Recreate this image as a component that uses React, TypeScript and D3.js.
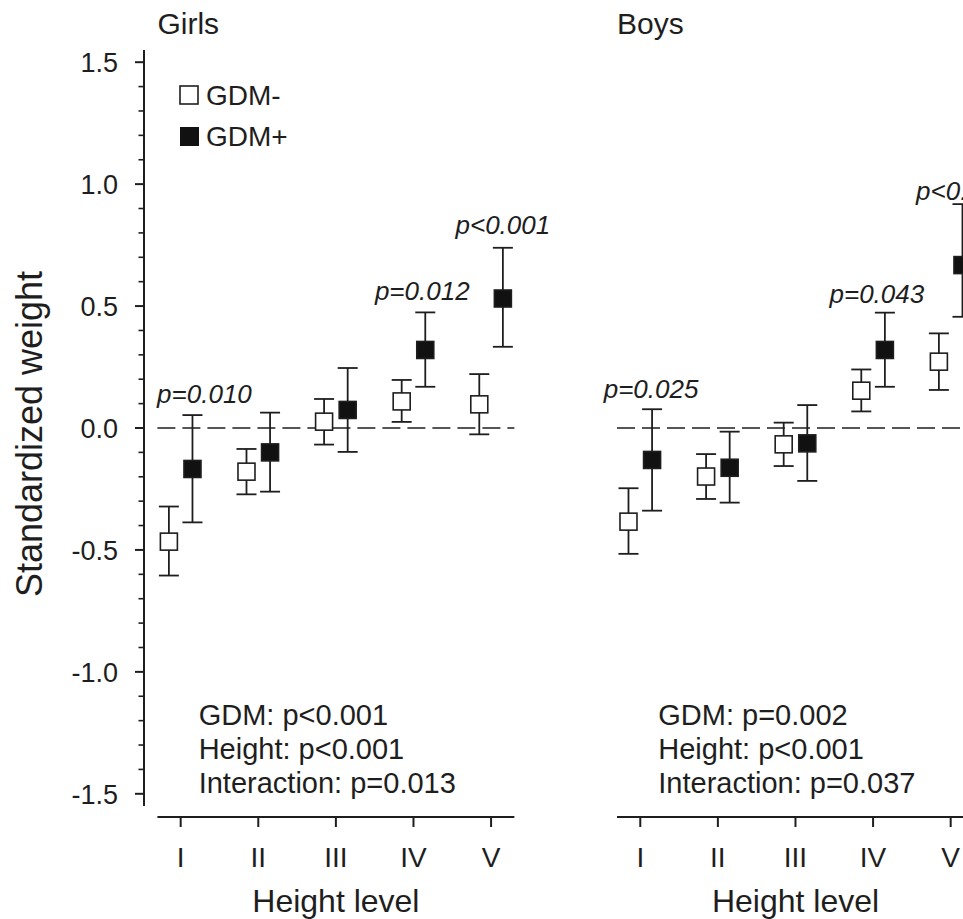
import React from 'react';
import * as d3 from 'd3';

// Height levels
const levels = ['I', 'II', 'III', 'IV', 'V'];

// Girls, GDM- (mean and error limits)
const girlsNegMean = [-0.466, -0.179, 0.026, 0.109, 0.097];
const girlsNegLow = [-0.605, -0.272, -0.068, 0.025, -0.026];
const girlsNegHigh = [-0.322, -0.086, 0.119, 0.197, 0.221];
// Girls, GDM+
const girlsPosMean = [-0.168, -0.100, 0.074, 0.320, 0.531];
const girlsPosLow = [-0.387, -0.261, -0.098, 0.169, 0.333];
const girlsPosHigh = [0.053, 0.063, 0.246, 0.474, 0.739];

// Boys, GDM-
const boysNegMean = [-0.384, -0.199, -0.067, 0.153, 0.272];
const boysNegLow = [-0.516, -0.291, -0.156, 0.068, 0.156];
const boysNegHigh = [-0.247, -0.107, 0.022, 0.240, 0.388];
// Boys, GDM+
const boysPosMean = [-0.131, -0.163, -0.063, 0.320, 0.668];
const boysPosLow = [-0.339, -0.306, -0.217, 0.169, 0.456];
const boysPosHigh = [0.077, -0.015, 0.094, 0.473, 0.918];

// p-value annotations per level (GDM- vs GDM+)
const girlsPLevel = [1, 4, 5];
const girlsPText = ['p=0.010', 'p=0.012', 'p<0.001'];
const boysPLevel = [1, 4, 5];
const boysPText = ['p=0.025', 'p=0.043', 'p<0.001'];

// model results
const girlsStats = ['GDM: p<0.001', 'Height: p<0.001', 'Interaction: p=0.013'];
const boysStats = ['GDM: p=0.002', 'Height: p<0.001', 'Interaction: p=0.037'];

const yMajor = [1.5, 1.0, 0.5, 0.0, -0.5, -1.0, -1.5];

const FONT = '"Liberation Sans", Arial, sans-serif';
const INK = '#1e1e1e';

const y = d3.scaleLinear().domain([-1.55, 1.55]).range([806, 50]);
const yMinor = d3.range(-15, 16).filter(d => d % 5 !== 0).map(d => d / 10);
// plain hyphen for negatives, like the original
const fmt = (v: number) => d3.format('.1f')(v).replace('\u2212', '-');

const STEP = 77.6;
const OFFSET = 0.152; // horizontal dodge of the two groups, in level units
const BOX = 17;
const CAP = 10;

function Panel({ x0, title, negMean, negLow, negHigh, posMean, posLow, posHigh, pLevel, pText, pNudge, stats }) {
  const x = d3.scaleLinear().domain([0.7, 5.3]).range([x0, x0 + 4.6 * STEP]);
  const [xa, xb] = x.range();

  const series = [
    { mean: negMean, low: negLow, high: negHigh, dx: -OFFSET, fill: '#fff' },
    { mean: posMean, low: posLow, high: posHigh, dx: OFFSET, fill: '#111' },
  ];

  return (
    <g>
      <text x={xa} y={34} fontSize={30} fill={INK}>{title}</text>

      {/* zero line */}
      <line x1={xa} x2={xb} y1={y(0)} y2={y(0)} stroke={INK} strokeWidth={1.6} strokeDasharray="18,7" />

      {/* x axis */}
      <line x1={xa} x2={xb} y1={817} y2={817} stroke={INK} strokeWidth={2} />
      {levels.map((l, i) => (
        <g key={l}>
          <line x1={x(i + 1)} x2={x(i + 1)} y1={817} y2={827} stroke={INK} strokeWidth={2} />
          <text x={x(i + 1)} y={867} textAnchor="middle" fontSize={28} fill={INK}>{l}</text>
        </g>
      ))}
      <text x={x(3)} y={912} textAnchor="middle" fontSize={32} fill={INK}>Height level</text>

      {/* error bars + squares */}
      {series.map((s, si) => levels.map((l, i) => {
        const cx = x(i + 1 + s.dx);
        return (
          <g key={si + l}>
            <line x1={cx} x2={cx} y1={y(s.low[i])} y2={y(s.high[i])} stroke={INK} strokeWidth={1.8} />
            <line x1={cx - CAP} x2={cx + CAP} y1={y(s.low[i])} y2={y(s.low[i])} stroke={INK} strokeWidth={1.8} />
            <line x1={cx - CAP} x2={cx + CAP} y1={y(s.high[i])} y2={y(s.high[i])} stroke={INK} strokeWidth={1.8} />
            <rect x={cx - BOX / 2} y={y(s.mean[i]) - BOX / 2} width={BOX} height={BOX}
              fill={s.fill} stroke={INK} strokeWidth={1.6} />
          </g>
        );
      }))}

      {/* p-values */}
      {pLevel.map((lv, k) => (
        <text key={k} x={x(lv + OFFSET) + pNudge[k][0]} y={y(posHigh[lv - 1]) + pNudge[k][1]}
          textAnchor="middle" fontSize={26} fontStyle="italic" fill={INK}>{pText[k]}</text>
      ))}

      {/* stats block */}
      {stats.map((t, k) => (
        <text key={t} x={x(1) + 18} y={725 + k * 34} fontSize={29} fill={INK}>{t}</text>
      ))}
    </g>
  );
}

export default function App() {
  return (
    <svg width={963} height={919} style={{ position: 'absolute', left: 0, top: 0, background: '#fff' }}
      fontFamily={FONT}>
      <rect width={963} height={919} fill="#fff" />

      {/* y axis (left panel only) */}
      <line x1={144} x2={144} y1={y(1.55)} y2={y(-1.55)} stroke={INK} strokeWidth={2} />
      {yMajor.map(v => (
        <g key={v}>
          <line x1={135} x2={144} y1={y(v)} y2={y(v)} stroke={INK} strokeWidth={2} />
          <text x={118} y={y(v)} dy="0.36em" textAnchor="end" fontSize={27} fill={INK}>{fmt(v)}</text>
        </g>
      ))}
      {yMinor.map(v => (
        <line key={v} x1={138.5} x2={144} y1={y(v)} y2={y(v)} stroke={INK} strokeWidth={1.6} />
      ))}
      <text transform={`translate(42,${434}) rotate(-90)`} textAnchor="middle" fontSize={36} fill={INK}>
        Standardized weight
      </text>

      {/* legend */}
      <rect x={180} y={86} width={18} height={18} fill="#fff" stroke={INK} strokeWidth={1.6} />
      <text x={206} y={105} fontSize={28} fill={INK}>GDM-</text>
      <rect x={180} y={127} width={19} height={19} fill="#111" />
      <text x={206} y={146} fontSize={28} fill={INK}>GDM+</text>

      <Panel x0={157.4} title="Girls"
        negMean={girlsNegMean} negLow={girlsNegLow} negHigh={girlsNegHigh}
        posMean={girlsPosMean} posLow={girlsPosLow} posHigh={girlsPosHigh}
        pLevel={girlsPLevel} pText={girlsPText} pNudge={[[12, -12], [-3, -12], [0, -14]]}
        stats={girlsStats} />
      <Panel x0={617} title="Boys"
        negMean={boysNegMean} negLow={boysNegLow} negHigh={boysNegHigh}
        posMean={boysPosMean} posLow={boysPosLow} posHigh={boysPosHigh}
        pLevel={boysPLevel} pText={boysPText} pNudge={[[-1, -11], [-8, -10], [1, -4]]}
        stats={boysStats} />
    </svg>
  );
}
